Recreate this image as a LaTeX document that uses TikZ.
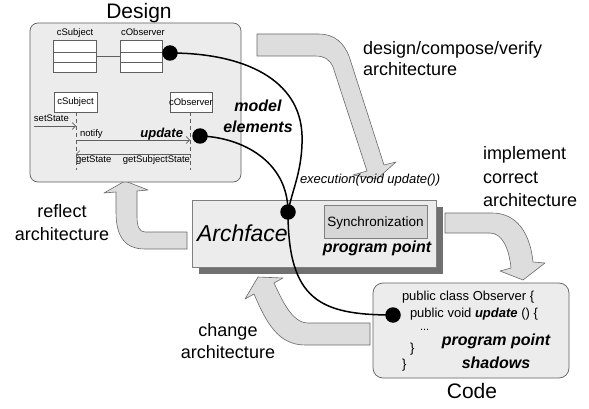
\documentclass[tikz,border=0pt]{standalone}
\usepackage{fontspec}
\setmainfont{Liberation Sans}
\usetikzlibrary{arrows.meta}

\definecolor{boxfill}{RGB}{236,236,236}
\definecolor{boxline}{RGB}{95,95,95}
\definecolor{flowfill}{RGB}{221,221,221}
\definecolor{flowline}{RGB}{105,105,105}
\definecolor{shadowgray}{RGB}{112,112,112}
\definecolor{syncfill}{RGB}{214,214,214}

\newcommand{\setfs}[1]{\fontsize{#1}{#1}\selectfont}

\begin{document}
\begin{tikzpicture}[x=1pt,y=-1pt,
  txt/.style={inner sep=0pt, outer sep=0pt},
  big/.style={txt, font=\setfs{18}},
  title/.style={txt, font=\setfs{21}},
  small/.style={txt, font=\setfs{9.5}},
  emph/.style={txt, font=\setfs{16}\bfseries\itshape},
  codetxt/.style={txt, font=\setfs{13}},
  flow/.style={fill=flowfill, draw=flowline, line width=0.6pt, line join=round},
  umlbox/.style={draw=boxline, fill=white, line width=0.6pt, inner sep=0pt},
  msg/.style={draw=boxline, line width=0.6pt, -{Straight Barb[length=3.5pt,width=7pt]}},
  life/.style={draw=boxline, line width=0.6pt, dash pattern=on 4pt off 3pt},
  dot/.style={circle, fill=black, inner sep=0pt, minimum size=15.5pt},
  wire/.style={draw=black, line width=1.5pt}
]
\fill[white] (0,0) rectangle (589,409);
\useasboundingbox (0,0) rectangle (589,409);

% ---------- wide process arrows ----------
% design/compose/verify
\draw[flow] (257,34) -- (318,34) .. controls (336,34) and (344,44) .. (349,56)
  -- (384,165) -- (396,162) -- (377,179) -- (353,175) -- (367,171)
  -- (333,67) .. controls (330,60) and (325,56) .. (315,56) -- (257,56) -- cycle;
% implement correct architecture
\draw[flow] (445,213) -- (492,213) .. controls (516,213) and (530,232) .. (533,262)
  -- (545,263) -- (523,280) -- (500,271) -- (511,268)
  .. controls (509,248) and (502,233) .. (490,233) -- (445,233) -- cycle;
% reflect architecture
\draw[flow] (187,232) -- (145,232) .. controls (139,232) and (137,226) .. (137,216)
  -- (137,191) -- (148,190) -- (125,181) -- (104,193) -- (116,192)
  -- (116,212) .. controls (116,238) and (126,249) .. (145,249) -- (187,249) -- cycle;
% change architecture
\draw[flow] (370,323) -- (308,323) .. controls (292,323) and (282,300) .. (274,283)
  -- (283,278) -- (258,277) -- (245,299) -- (254,294)
  .. controls (266,322) and (278,345) .. (305,345) -- (370,345) -- cycle;

% ---------- Design ----------
\node[title, anchor=base] (designlbl) at (139,19) {Design};
\draw[draw=boxline, fill=boxfill, line width=0.7pt, rounded corners=8pt]
  (30,23) rectangle (241,182);

% class diagram
\node[umlbox, minimum width=43pt, minimum height=32pt] (cls) at (74.5,56) {};
\node[umlbox, minimum width=42pt, minimum height=32pt] (clo) at (141,56) {};
\draw[boxline, line width=0.6pt] (53,52) -- (96,52) (53,62) -- (96,62)
  (120,52) -- (162,52) (120,62) -- (162,62);
\draw[boxline, line width=0.6pt] (cls.east) -- (clo.west);
\node[small, anchor=base] (clsname) at (75,36) {cSubject};
\node[small, anchor=base] (cloname) at (143,36) {cObserver};

% sequence diagram
\node[umlbox, minimum width=43pt, minimum height=20pt] (ls) at (75.5,102) {};
\node[umlbox, minimum width=42pt, minimum height=20pt] (lo) at (191,102) {};
\node[small] (lsname) at (ls.center) {cSubject};
\node[small] (loname) at (lo.center) {cObserver};
\coordinate (lsend) at (76,170);
\coordinate (loend) at (190,170);
\draw[life] (76,112) -- (lsend);
\draw[life] (190,112) -- (loend);
\coordinate (setin) at (34,126);
\coordinate (setat) at (76,126);
\coordinate (notfrom) at (76,140);
\coordinate (notto) at (190,140);
\coordinate (retfrom) at (190,154);
\coordinate (retto) at (76,154);
\draw[msg] (setin) -- (setat);
\draw[msg] (notfrom) -- (notto);
\draw[msg] (retfrom) -- (retto);
\node[small, anchor=base west] (setlbl) at (34,122) {setState};
\node[small, anchor=base west] (notlbl) at (80,137) {notify};
\node[txt, font=\setfs{13}\bfseries\itshape, anchor=base east] (updlbl) at (183,138) {update};
\node[small, anchor=base west] (getlbl) at (76,163) {getState};
\node[small, anchor=base east] (gsslbl) at (190,163) {getSubjectState};

% ---------- Archface ----------
\fill[shadowgray] (199,207) rectangle (443,274);
\draw[draw=boxline!80, fill=boxfill, line width=0.7pt] (192,200) rectangle (436,267);
\node[txt, font=\setfs{23}\itshape, anchor=base west] (archlbl) at (197,241) {Archface};
\node[draw=boxline!80, fill=syncfill, line width=0.7pt, minimum width=103pt,
  minimum height=33pt, inner sep=0pt] (sync) at (375.5,221.5) {};
\node[txt, font=\setfs{13.5}, anchor=base] (synclbl) at (375.5,226) {Synchronization};
\node[emph, anchor=base] (pplbl) at (377,252) {program point};
\node[txt, font=\setfs{13}\itshape, anchor=base west] (execlbl) at (300,183) {execution(void update())};

% ---------- Code ----------
\draw[draw=boxline, fill=boxfill, line width=0.7pt, rounded corners=10pt]
  (373,283) rectangle (569,378);
\node[codetxt, anchor=base west] (c1) at (402,300) {public class Observer \{};
\node[codetxt, anchor=base west] (c2) at (410,317) {public void \textbf{\textit{update}} () \{};
\node[txt, font=\setfs{11}, anchor=base west] (c3) at (420,330) {...};
\node[codetxt, anchor=base west] (c4) at (410,352) {\}};
\node[codetxt, anchor=base west] (c5) at (402,368) {\}};
\node[emph, anchor=base] (ppsh1) at (496,345) {program point};
\node[emph, anchor=base] (ppsh2) at (496,368) {shadows};
\node[title, anchor=base] (codelbl) at (472,398) {Code};

% ---------- labels of the process arrows ----------
\node[big, anchor=base west] (dcv1) at (363,55) {design/compose/verify};
\node[big, anchor=base west] (dcv2) at (363,76) {architecture};
\node[big, anchor=base west] (imp1) at (483,160) {implement};
\node[big, anchor=base west] (imp2) at (483,183) {correct};
\node[big, anchor=base west] (imp3) at (483,206) {architecture};
\node[big, anchor=base] (ref1) at (62,217) {reflect};
\node[big, anchor=base] (ref2) at (62,240) {architecture};
\node[big, anchor=base] (chg1) at (228,336) {change};
\node[big, anchor=base] (chg2) at (228,358) {architecture};
\node[emph, anchor=base] (me1) at (258,112) {model};
\node[emph, anchor=base] (me2) at (258,133) {elements};

% ---------- model element / program point links ----------
\node[dot] (dclass) at (170,53) {};
\node[dot] (dupd) at (200,136) {};
\node[dot] (darch) at (288,212) {};
\node[dot] (dcode) at (393,315) {};
\draw[wire] (dclass.center) .. controls (245,53) and (300,80) .. (302,135)
  .. controls (303,170) and (292,190) .. (darch.center);
\draw[wire] (dupd.center) .. controls (240,137) and (288,160) .. (darch.center);
\draw[wire] (darch.center) .. controls (288,300) and (320,315) .. (dcode.center);
\end{tikzpicture}
\end{document}
